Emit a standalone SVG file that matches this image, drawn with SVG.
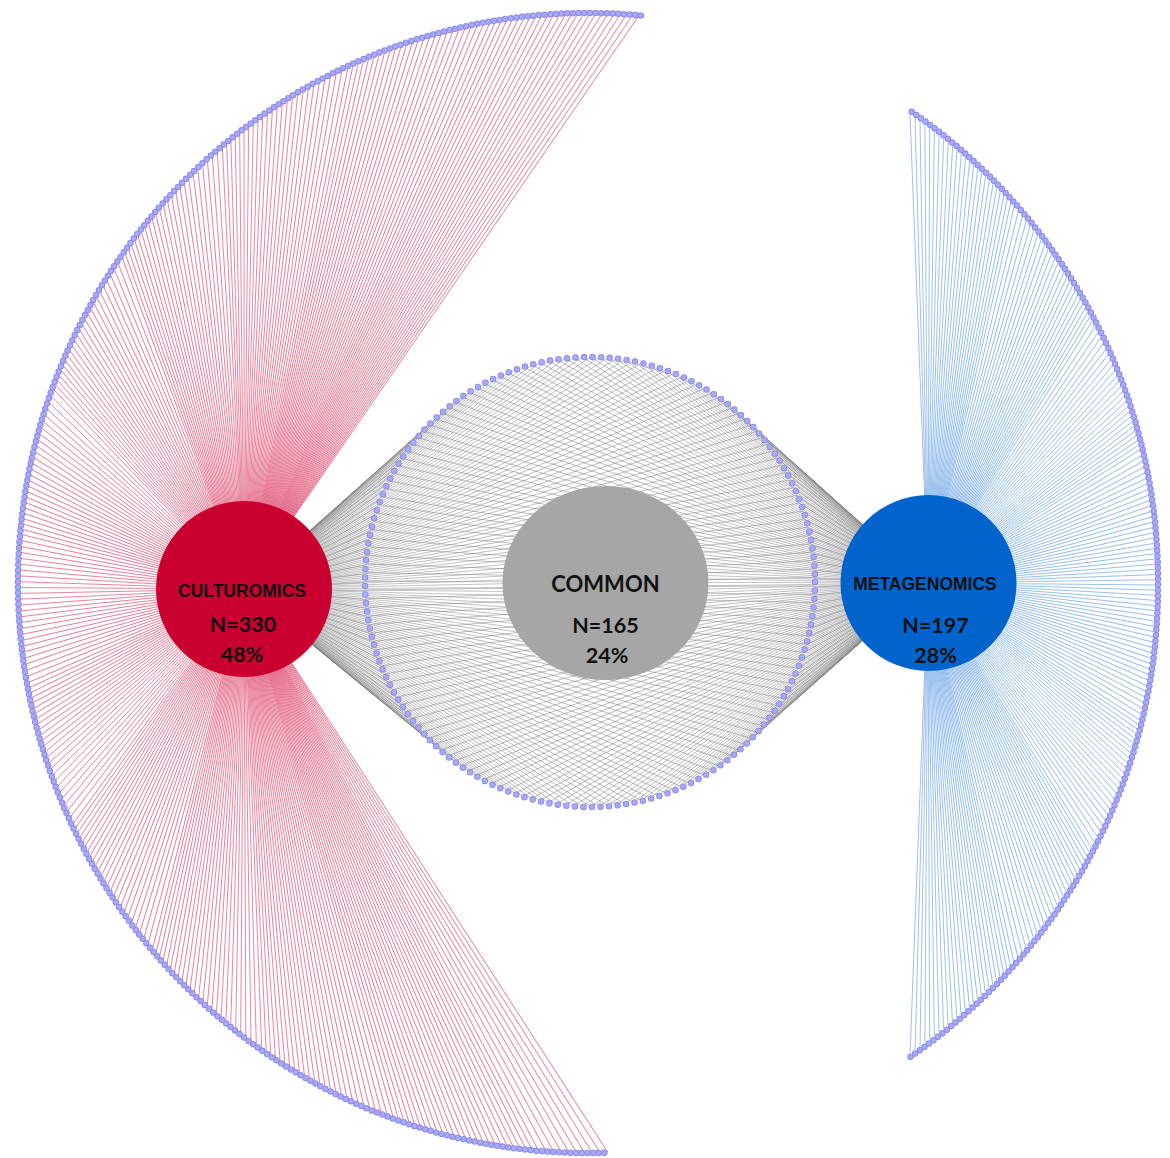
<svg xmlns="http://www.w3.org/2000/svg" width="1170" height="1158" viewBox="0 0 1170 1158">
<style>
.red{stroke:#d8244f;stroke-width:0.55;fill:none}
.blu{stroke:#4a8fe0;stroke-width:0.55;fill:none}
.gry{stroke:#7a7a7a;stroke-width:0.45;fill:none}
.dotA{fill:none;stroke:#8c8ce8;stroke-linecap:round}
.dotB{fill:none;stroke:#a9a9f7;stroke-linecap:round}
.lbl{font-family:"Liberation Sans",Arial,sans-serif;font-weight:bold;text-anchor:middle;fill:#111}
.num{font-family:Lato,"Liberation Sans",sans-serif;font-weight:bold;text-anchor:middle;fill:#111}
</style>
<defs>
<line id="L" x1="0" y1="0" x2="800" y2="0"/>
<clipPath id="big"><circle cx="588" cy="583" r="570"/></clipPath>
<clipPath id="hullP"><path d="M244 589L440.32 414A225 225 0 1 1 447.49 756.11Z"/></clipPath>
<clipPath id="ringP"><path clip-rule="evenodd" d="M244 589L440.32 414A225 225 0 1 1 447.49 756.11Z M815 582A225 225 0 1 0 365 582A225 225 0 1 0 815 582Z"/></clipPath>
<clipPath id="hullM"><path d="M928 583L740.26 414.53A225 225 0 1 0 739.23 750.39Z"/></clipPath>
<clipPath id="ringM"><path clip-rule="evenodd" d="M928 583L740.26 414.53A225 225 0 1 0 739.23 750.39Z M815 582A225 225 0 1 0 365 582A225 225 0 1 0 815 582Z"/></clipPath>
<path id="arcC" d="M640.85 15.45A570 570 0 0 0 18 583A570 570 0 0 0 609.98 1152.58"/>
<path id="arcM" d="M911.7 111.7A570 570 0 0 1 1158 583A570 570 0 0 1 908.3 1058.3"/>
<g id="fh">
<use href="#L" transform="rotate(0.865)"/><use href="#L" transform="rotate(1.73)"/><use href="#L" transform="rotate(2.596)"/><use href="#L" transform="rotate(3.461)"/><use href="#L" transform="rotate(4.325)"/>
<use href="#L" transform="rotate(5.187)"/><use href="#L" transform="rotate(6.048)"/><use href="#L" transform="rotate(6.91)"/><use href="#L" transform="rotate(7.774)"/><use href="#L" transform="rotate(8.629)"/>
<use href="#L" transform="rotate(9.484)"/><use href="#L" transform="rotate(10.34)"/><use href="#L" transform="rotate(11.19)"/><use href="#L" transform="rotate(12.05)"/><use href="#L" transform="rotate(12.89)"/>
<use href="#L" transform="rotate(13.74)"/><use href="#L" transform="rotate(14.58)"/><use href="#L" transform="rotate(15.42)"/><use href="#L" transform="rotate(16.26)"/><use href="#L" transform="rotate(17.09)"/>
<use href="#L" transform="rotate(17.92)"/><use href="#L" transform="rotate(18.74)"/><use href="#L" transform="rotate(19.57)"/><use href="#L" transform="rotate(20.38)"/><use href="#L" transform="rotate(21.19)"/>
<use href="#L" transform="rotate(21.99)"/><use href="#L" transform="rotate(22.8)"/><use href="#L" transform="rotate(23.6)"/><use href="#L" transform="rotate(24.37)"/><use href="#L" transform="rotate(25.15)"/>
<use href="#L" transform="rotate(25.93)"/><use href="#L" transform="rotate(26.71)"/><use href="#L" transform="rotate(27.46)"/><use href="#L" transform="rotate(28.2)"/><use href="#L" transform="rotate(28.94)"/>
<use href="#L" transform="rotate(29.68)"/><use href="#L" transform="rotate(30.41)"/><use href="#L" transform="rotate(31.1)"/><use href="#L" transform="rotate(31.79)"/><use href="#L" transform="rotate(32.48)"/>
<use href="#L" transform="rotate(33.17)"/><use href="#L" transform="rotate(33.81)"/><use href="#L" transform="rotate(34.43)"/><use href="#L" transform="rotate(35.05)"/><use href="#L" transform="rotate(35.67)"/>
<use href="#L" transform="rotate(36.27)"/><use href="#L" transform="rotate(36.79)"/><use href="#L" transform="rotate(37.32)"/><use href="#L" transform="rotate(37.84)"/><use href="#L" transform="rotate(38.36)"/>
<use href="#L" transform="rotate(38.8)"/><use href="#L" transform="rotate(39.18)"/><use href="#L" transform="rotate(39.57)"/><use href="#L" transform="rotate(39.95)"/><use href="#L" transform="rotate(40.33)"/>
<use href="#L" transform="rotate(40.57)"/><use href="#L" transform="rotate(40.81)"/><use href="#L" transform="rotate(40.96)"/><use href="#L" transform="rotate(41.07)"/><use href="#L" transform="rotate(41.12)"/>
</g>
<g id="nh">
<use href="#L" transform="rotate(2.09)"/><use href="#L" transform="rotate(6.24)"/><use href="#L" transform="rotate(10.25)"/><use href="#L" transform="rotate(14.05)"/><use href="#L" transform="rotate(17.66)"/>
<use href="#L" transform="rotate(20.9)"/><use href="#L" transform="rotate(23.93)"/><use href="#L" transform="rotate(26.58)"/><use href="#L" transform="rotate(28.97)"/><use href="#L" transform="rotate(31.1)"/>
<use href="#L" transform="rotate(32.86)"/><use href="#L" transform="rotate(34.6)"/><use href="#L" transform="rotate(35.84)"/><use href="#L" transform="rotate(37.09)"/><use href="#L" transform="rotate(38.02)"/>
<use href="#L" transform="rotate(38.85)"/><use href="#L" transform="rotate(39.53)"/><use href="#L" transform="rotate(40.03)"/><use href="#L" transform="rotate(40.49)"/><use href="#L" transform="rotate(40.74)"/>
<use href="#L" transform="rotate(40.99)"/><use href="#L" transform="rotate(41.08)"/>
</g>
</defs>
<rect width="1170" height="1158" fill="#fff"/>
<g id="connectors">
<g id="culturomics-links" class="red" clip-path="url(#big)">
<g transform="translate(244 589)">
<g transform="rotate(-55.45)"><g id="c1"><use href="#L"/><use href="#L" transform="rotate(-.4436)"/><use href="#L" transform="rotate(-.8872)"/><use href="#L" transform="rotate(-1.3308)"/><use href="#L" transform="rotate(-1.7744)"/></g><use href="#c1" transform="rotate(-2.218)"/><use href="#c1" transform="rotate(-4.436)"/><use href="#c1" transform="rotate(-6.654)"/><use href="#c1" transform="rotate(-8.872)"/></g>
<g transform="rotate(-66.54)"><g id="c2"><use href="#L"/><use href="#L" transform="rotate(-.4876)"/><use href="#L" transform="rotate(-.9752)"/><use href="#L" transform="rotate(-1.4628)"/><use href="#L" transform="rotate(-1.9504)"/></g><use href="#c2" transform="rotate(-2.438)"/><use href="#c2" transform="rotate(-4.876)"/><use href="#c2" transform="rotate(-7.314)"/><use href="#c2" transform="rotate(-9.752)"/></g>
<g transform="rotate(-78.73)"><g id="c3"><use href="#L"/><use href="#L" transform="rotate(-.5628)"/><use href="#L" transform="rotate(-1.1256)"/><use href="#L" transform="rotate(-1.6884)"/><use href="#L" transform="rotate(-2.2512)"/></g><use href="#c3" transform="rotate(-2.814)"/><use href="#c3" transform="rotate(-5.628)"/><use href="#c3" transform="rotate(-8.442)"/><use href="#c3" transform="rotate(-11.256)"/></g>
<g transform="rotate(-92.8)"><g id="c4"><use href="#L"/><use href="#L" transform="rotate(-.696)"/><use href="#L" transform="rotate(-1.392)"/><use href="#L" transform="rotate(-2.088)"/><use href="#L" transform="rotate(-2.784)"/></g><use href="#c4" transform="rotate(-3.48)"/><use href="#c4" transform="rotate(-6.96)"/><use href="#c4" transform="rotate(-10.44)"/><use href="#c4" transform="rotate(-13.92)"/></g>
<g transform="rotate(-110.2)"><g id="c5"><use href="#L"/><use href="#L" transform="rotate(-.9388)"/><use href="#L" transform="rotate(-1.8776)"/><use href="#L" transform="rotate(-2.8164)"/><use href="#L" transform="rotate(-3.7552)"/></g><use href="#c5" transform="rotate(-4.694)"/><use href="#c5" transform="rotate(-9.388)"/><use href="#c5" transform="rotate(-14.082)"/><use href="#c5" transform="rotate(-18.776)"/></g>
<g transform="rotate(-133.67)"><g id="c6"><use href="#L"/><use href="#L" transform="rotate(-1.3024)"/><use href="#L" transform="rotate(-2.6048)"/><use href="#L" transform="rotate(-3.9072)"/><use href="#L" transform="rotate(-5.2096)"/></g><use href="#c6" transform="rotate(-6.512)"/><use href="#c6" transform="rotate(-13.024)"/><use href="#c6" transform="rotate(-19.536)"/><use href="#c6" transform="rotate(-26.048)"/></g>
<g transform="rotate(-166.23)"><g id="c7"><use href="#L"/><use href="#L" transform="rotate(-1.4892)"/><use href="#L" transform="rotate(-2.9784)"/><use href="#L" transform="rotate(-4.4676)"/><use href="#L" transform="rotate(-5.9568)"/></g><use href="#c7" transform="rotate(-7.446)"/><use href="#c7" transform="rotate(-14.892)"/><use href="#c7" transform="rotate(-22.338)"/><use href="#c7" transform="rotate(-29.784)"/></g>
<g transform="rotate(-203.46)"><g id="c8"><use href="#L"/><use href="#L" transform="rotate(-1.2188)"/><use href="#L" transform="rotate(-2.4376)"/><use href="#L" transform="rotate(-3.6564)"/><use href="#L" transform="rotate(-4.8752)"/></g><use href="#c8" transform="rotate(-6.094)"/><use href="#c8" transform="rotate(-12.188)"/><use href="#c8" transform="rotate(-18.282)"/><use href="#c8" transform="rotate(-24.376)"/></g>
<g transform="rotate(-233.93)"><g id="c9"><use href="#L"/><use href="#L" transform="rotate(-.8724)"/><use href="#L" transform="rotate(-1.7448)"/><use href="#L" transform="rotate(-2.6172)"/><use href="#L" transform="rotate(-3.4896)"/></g><use href="#c9" transform="rotate(-4.362)"/><use href="#c9" transform="rotate(-8.724)"/><use href="#c9" transform="rotate(-13.086)"/><use href="#c9" transform="rotate(-17.448)"/></g>
<g transform="rotate(-255.74)"><g id="c10"><use href="#L"/><use href="#L" transform="rotate(-.6588)"/><use href="#L" transform="rotate(-1.3176)"/><use href="#L" transform="rotate(-1.9764)"/><use href="#L" transform="rotate(-2.6352)"/></g><use href="#c10" transform="rotate(-3.294)"/><use href="#c10" transform="rotate(-6.588)"/><use href="#c10" transform="rotate(-9.882)"/><use href="#c10" transform="rotate(-13.176)"/></g>
<g transform="rotate(-272.21)"><g id="c11"><use href="#L"/><use href="#L" transform="rotate(-.5424)"/><use href="#L" transform="rotate(-1.0848)"/><use href="#L" transform="rotate(-1.6272)"/><use href="#L" transform="rotate(-2.1696)"/></g><use href="#c11" transform="rotate(-2.712)"/><use href="#c11" transform="rotate(-5.424)"/><use href="#c11" transform="rotate(-8.136)"/><use href="#c11" transform="rotate(-10.848)"/></g>
<g transform="rotate(-285.77)"><g id="c12"><use href="#L"/><use href="#L" transform="rotate(-.476)"/><use href="#L" transform="rotate(-.952)"/><use href="#L" transform="rotate(-1.428)"/><use href="#L" transform="rotate(-1.904)"/></g><use href="#c12" transform="rotate(-2.38)"/><use href="#c12" transform="rotate(-4.76)"/><use href="#c12" transform="rotate(-7.14)"/><use href="#c12" transform="rotate(-9.52)"/></g>
<g transform="rotate(-297.67)"><g id="c13"><use href="#L"/><use href="#L" transform="rotate(-.5767)"/><use href="#L" transform="rotate(-1.1534)"/><use href="#L" transform="rotate(-1.7301)"/><use href="#L" transform="rotate(-2.3068)"/></g><use href="#c13" transform="rotate(-2.8835)"/></g>
</g>
</g>
<g id="metagenomics-links" class="blu" clip-path="url(#big)">
<g transform="translate(928 583)">
<g transform="rotate(-92.2)"><g id="m1"><use href="#L"/><use href="#L" transform="rotate(.6032)"/><use href="#L" transform="rotate(1.2064)"/><use href="#L" transform="rotate(1.8096)"/><use href="#L" transform="rotate(2.4128)"/></g><use href="#m1" transform="rotate(3.016)"/><use href="#m1" transform="rotate(6.032)"/><use href="#m1" transform="rotate(9.048)"/><use href="#m1" transform="rotate(12.064)"/></g>
<g transform="rotate(-77.12)"><g id="m2"><use href="#L"/><use href="#L" transform="rotate(.768)"/><use href="#L" transform="rotate(1.536)"/><use href="#L" transform="rotate(2.304)"/><use href="#L" transform="rotate(3.072)"/></g><use href="#m2" transform="rotate(3.84)"/><use href="#m2" transform="rotate(7.68)"/><use href="#m2" transform="rotate(11.52)"/><use href="#m2" transform="rotate(15.36)"/></g>
<g transform="rotate(-57.92)"><g id="m3"><use href="#L"/><use href="#L" transform="rotate(1.0308)"/><use href="#L" transform="rotate(2.0616)"/><use href="#L" transform="rotate(3.0924)"/><use href="#L" transform="rotate(4.1232)"/></g><use href="#m3" transform="rotate(5.154)"/><use href="#m3" transform="rotate(10.308)"/><use href="#m3" transform="rotate(15.462)"/><use href="#m3" transform="rotate(20.616)"/></g>
<g transform="rotate(-32.15)"><g id="m4"><use href="#L"/><use href="#L" transform="rotate(1.3056)"/><use href="#L" transform="rotate(2.6112)"/><use href="#L" transform="rotate(3.9168)"/><use href="#L" transform="rotate(5.2224)"/></g><use href="#m4" transform="rotate(6.528)"/><use href="#m4" transform="rotate(13.056)"/><use href="#m4" transform="rotate(19.584)"/><use href="#m4" transform="rotate(26.112)"/></g>
<g transform="rotate(.49)"><g id="m5"><use href="#L"/><use href="#L" transform="rotate(1.2964)"/><use href="#L" transform="rotate(2.5928)"/><use href="#L" transform="rotate(3.8892)"/><use href="#L" transform="rotate(5.1856)"/></g><use href="#m5" transform="rotate(6.482)"/><use href="#m5" transform="rotate(12.964)"/><use href="#m5" transform="rotate(19.446)"/><use href="#m5" transform="rotate(25.928)"/></g>
<g transform="rotate(32.9)"><g id="m6"><use href="#L"/><use href="#L" transform="rotate(1.016)"/><use href="#L" transform="rotate(2.032)"/><use href="#L" transform="rotate(3.048)"/><use href="#L" transform="rotate(4.064)"/></g><use href="#m6" transform="rotate(5.08)"/><use href="#m6" transform="rotate(10.16)"/><use href="#m6" transform="rotate(15.24)"/><use href="#m6" transform="rotate(20.32)"/></g>
<g transform="rotate(58.3)"><g id="m7"><use href="#L"/><use href="#L" transform="rotate(.758)"/><use href="#L" transform="rotate(1.516)"/><use href="#L" transform="rotate(2.274)"/><use href="#L" transform="rotate(3.032)"/></g><use href="#m7" transform="rotate(3.79)"/><use href="#m7" transform="rotate(7.58)"/><use href="#m7" transform="rotate(11.37)"/><use href="#m7" transform="rotate(15.16)"/></g>
<g transform="rotate(77.25)"><g id="m8"><use href="#L"/><use href="#L" transform="rotate(.5972)"/><use href="#L" transform="rotate(1.1944)"/><use href="#L" transform="rotate(1.7916)"/><use href="#L" transform="rotate(2.3888)"/></g><use href="#m8" transform="rotate(2.986)"/><use href="#m8" transform="rotate(5.972)"/><use href="#m8" transform="rotate(8.958)"/><use href="#m8" transform="rotate(11.944)"/></g>
<use href="#L" transform="rotate(92.18)"/>
</g>
</g>
<g id="common-links" class="gry">
<g clip-path="url(#hullP)"><g transform="translate(244 589) rotate(-1.16) scale(1 .9796)"><use href="#L"/><use href="#fh"/><use href="#fh" transform="scale(1 -1)"/></g></g>
<g clip-path="url(#ringP)"><g transform="translate(244 589) rotate(-1.16) scale(1 .9796)"><use href="#nh"/><use href="#nh" transform="scale(1 -1)"/></g></g>
<g clip-path="url(#hullM)"><g transform="translate(928 583) scale(-1 1) rotate(-.17) scale(1 1.021)"><use href="#L"/><use href="#fh"/><use href="#fh" transform="scale(1 -1)"/></g></g>
<g clip-path="url(#ringM)"><g transform="translate(928 583) scale(-1 1) rotate(-.17) scale(1 1.021)"><use href="#nh"/><use href="#nh" transform="scale(1 -1)"/></g></g>
</g>
</g>
<g id="species-nodes">
<use href="#arcC" class="dotA" stroke-width="6.5" stroke-dasharray="0 5.67"/>
<use href="#arcC" class="dotB" stroke-width="4.5" stroke-dasharray="0 5.67"/>
<use href="#arcM" class="dotA" stroke-width="6.5" stroke-dasharray="0 5.66"/>
<use href="#arcM" class="dotB" stroke-width="4.5" stroke-dasharray="0 5.66"/>
<circle class="dotA" cx="590" cy="582" r="225" stroke-width="6.5" stroke-dasharray="0 8.568"/>
<circle class="dotB" cx="590" cy="582" r="225" stroke-width="4.8" stroke-dasharray="0 8.568"/>
</g>
<g id="culturomics">
<circle cx="244" cy="589" r="88" fill="#c9002f"/>
<text class="lbl" x="242" y="597" font-size="17.5">CULTUROMICS</text>
<text class="num" x="243" y="632" font-size="21.5">N=330</text>
<text class="num" x="242" y="662" font-size="21.5">48%</text>
</g>
<g id="common">
<ellipse cx="605.5" cy="583" rx="103" ry="97" fill="#a6a6a6"/>
<text class="num" x="605.5" y="592" font-size="22">COMMON</text>
<text class="num" x="605.5" y="633" font-size="21.5">N=165</text>
<text class="num" x="607" y="663" font-size="21.5">24%</text>
</g>
<g id="metagenomics">
<circle cx="928.5" cy="583" r="88" fill="#0064cc"/>
<text class="lbl" x="925" y="590" font-size="17.5">METAGENOMICS</text>
<text class="num" x="935.5" y="633" font-size="21.5">N=197</text>
<text class="num" x="935.5" y="663" font-size="21.5">28%</text>
</g>
</svg>
